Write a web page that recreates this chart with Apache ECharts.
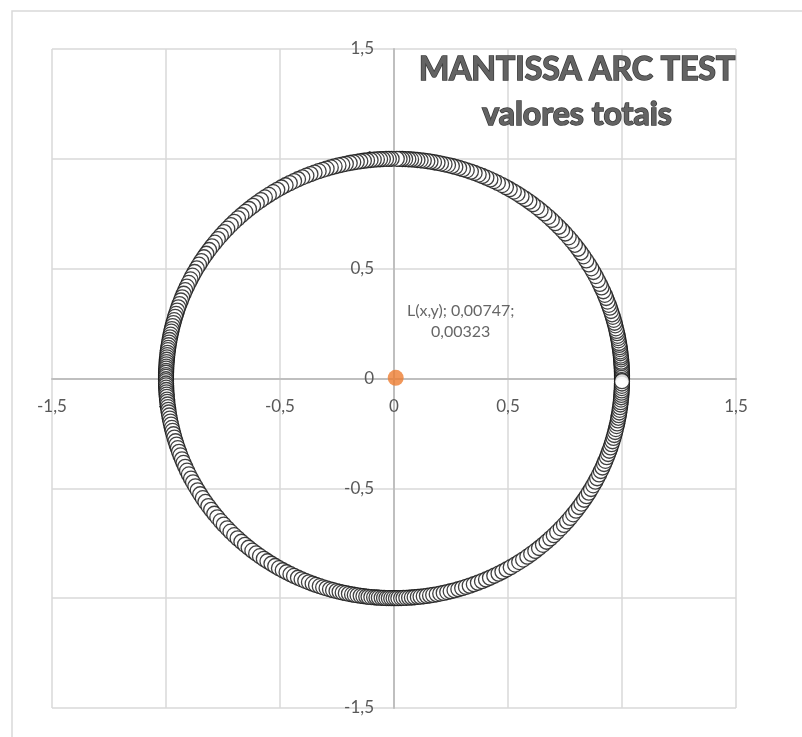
<!DOCTYPE html>
<html>
<head>
<meta charset="utf-8">
<style>
html, body { margin: 0; padding: 0; background: #fff; }
#chart { width: 802px; height: 737px; }
</style>
<script src="https://cdn.jsdelivr.net/npm/echarts@6/dist/echarts.min.js"></script>
</head>
<body>
<div id="chart"></div>
<script>
// position of each point on the unit arc, in degrees
const arcAngles = [
  0,0.4,0.8,1.2,1.7,2.1,2.6,3,3.5,4,4.4,5,5.5,6,6.6,7.1,7.7,8.2,8.8,9.3,10,10.6,11.2,11.9,12.5,13.2,14,14.7,15.5,16.3,17,17.9,18.8,19.6,20.5,21.5,22.4,23.4,24.5,25.5,26.6,27.8,29,30.1,31.3,32.5,33.8,35,36.2,37.5,38.8,40,41.3,42.5,43.7,45,46.2,47.4,48.7,50,51.2,52.5,53.6,54.8,56,57.2,58.3,59.5,60.6,61.7,62.9,64,65,66.1,67.2,68.2,69.3,70.3,71.4,72.4,73.4,74.4,75.3,76.3,77.2,78.1,79,79.9,80.8,81.6,82.5,83.3,84.1,84.9,85.7,86.4,87.2,87.9,88.6,89.3,
  90.6,91.3,92,92.8,93.5,94.3,95.1,95.9,96.8,97.6,98.5,99.4,100.3,101.2,102.2,103.1,104.1,105.1,106.1,107.2,108.2,109.3,110.4,111.5,112.6,113.7,114.9,116,117.2,118.4,119.6,120.8,122,123.3,124.5,125.7,127,128.2,129.5,130.7,132,133.2,134.5,135.7,137,138.2,139.4,140.6,141.8,143,144.2,145.4,146.5,147.7,148.8,149.9,151,152.1,153.2,154.2,155.3,156.3,157.3,158.3,159.2,160.2,161.1,162,162.9,163.7,164.6,165.4,166.2,167,167.7,168.5,169.2,169.9,170.6,171.3,172,172.6,173.3,173.9,174.5,175.1,175.7,176.3,176.9,177.4,178,178.5,179.1,179.6,
  180.2,180.7,181.3,181.8,182.4,183,183.6,184.2,184.8,185.5,186.1,186.8,187.5,188.2,188.9,189.7,190.5,191.3,192.1,193,193.8,194.7,195.6,196.6,197.5,198.5,199.5,200.5,201.6,202.6,203.7,204.8,205.9,207.1,208.2,209.4,210.6,211.8,213,214.2,215.5,216.7,218,219.2,220.5,221.7,223,224.2,225.5,226.7,228,229.2,230.4,231.6,232.8,234,235.2,236.3,237.5,238.6,239.7,240.8,241.9,243,244,245.1,246.1,247.1,248.1,249.1,250,251,251.9,252.8,253.7,254.5,255.4,256.2,257,257.8,258.6,259.4,260.1,260.8,261.6,262.3,263,263.6,264.3,265,265.6,266.2,266.9,267.5,268.1,268.7,269.3,269.9,
  270.5,271.1,271.8,272.4,273.1,273.8,274.5,275.2,276,276.7,277.5,278.3,279.1,279.9,280.8,281.7,282.6,283.5,284.4,285.4,286.4,287.4,288.4,289.4,290.5,291.6,292.7,293.8,294.9,296.1,297.3,298.4,299.6,300.8,302.1,303.3,304.5,305.8,307,308.3,309.5,310.8,312,313.3,314.5,315.7,317,318.2,319.4,320.6,321.8,323,324.2,325.3,326.5,327.6,328.7,329.8,330.9,332,333,334.1,335.1,336.1,337.1,338,339,339.9,340.8,341.7,342.6,343.4,344.3,345.1,345.9,346.7,347.5,348.2,349,349.7,350.4,351.1,351.8,352.5,353.2,353.8,354.5,355.1,355.7,356.3,356.9,357.5,358.1,358.7,359.3
];
const arcRadius = 1;

// the L(x,y) point
const pointL = [0.00747, 0.00323];

const axisMin = -1.5;
const axisMax = 1.5;
const axisStep = 0.5;

const arcData = arcAngles.map(a => [
  arcRadius * Math.cos(a * Math.PI / 180),
  arcRadius * Math.sin(a * Math.PI / 180)
]);

const fmt = v => String(v).replace('.', ',');
const fontFam = 'Lato, "Open Sans", sans-serif';

// plot box
const gLeft = 52, gRight = 66, gTop = 49, gBottom = 29;
const W = 802, H = 737;
const plotW = W - gLeft - gRight;
const plotH = H - gTop - gBottom;

const chart = echarts.init(document.getElementById('chart'));

const valueAxis = {
  type: 'value',
  min: axisMin,
  max: axisMax,
  interval: axisStep,
  axisLine: { onZero: false, lineStyle: { color: '#bfbfbf', width: 2 } },
  axisTick: { show: false },
  splitLine: { lineStyle: { color: '#d9d9d9', width: 1.5 } },
  axisLabel: {
    color: '#595959',
    fontSize: 17,
    fontFamily: fontFam,
    formatter: fmt
  }
};

chart.setOption({
  animation: false,
  backgroundColor: '#fff',
  graphic: [{
    type: 'rect',
    shape: { x: 12, y: 11, width: 800, height: 740 },
    style: { fill: 'none', stroke: '#d9d9d9', lineWidth: 1.5 },
    silent: true,
    z: -10
  }],
  title: {
    text: 'MANTISSA ARC TEST\nvalores totais',
    left: 572,
    top: 42,
    textAlign: 'center',
    textStyle: {
      fontFamily: fontFam,
      fontSize: 32,
      fontWeight: 'bold',
      color: '#636363',
      textBorderColor: '#3a3a3a',
      textBorderWidth: 1.5,
      lineHeight: 45
    }
  },
  grid: { left: gLeft, right: gRight, top: gTop, bottom: gBottom },
  // axes sit on the zero lines, so shift them in from the box edges
  xAxis: Object.assign({}, valueAxis, {
    position: 'bottom',
    offset: -(plotH * (0 - axisMin) / (axisMax - axisMin)),
    axisLabel: Object.assign({}, valueAxis.axisLabel, { margin: 20 })
  }),
  yAxis: Object.assign({}, valueAxis, {
    position: 'left',
    offset: -(plotW * (0 - axisMin) / (axisMax - axisMin)),
    axisLabel: Object.assign({}, valueAxis.axisLabel, { margin: 20 })
  }),
  series: [
    {
      type: 'scatter',
      data: arcData,
      symbol: 'circle',
      symbolSize: 15,
      itemStyle: { color: '#ffffff', borderColor: '#111', borderWidth: 1.3 },
      z: 3
    },
    {
      type: 'scatter',
      data: [pointL],
      symbolSize: 16,
      itemStyle: { color: '#ed7d31' },
      z: 4,
      label: {
        show: true,
        position: 'inside',
        offset: [65, -56],
        formatter: 'L(x,y); ' + fmt(pointL[0]) + ';\n' + fmt(pointL[1]),
        color: '#404040',
        fontSize: 16,
        fontFamily: fontFam,
        lineHeight: 21,
        align: 'center'
      }
    }
  ]
});
</script>
</body>
</html>
